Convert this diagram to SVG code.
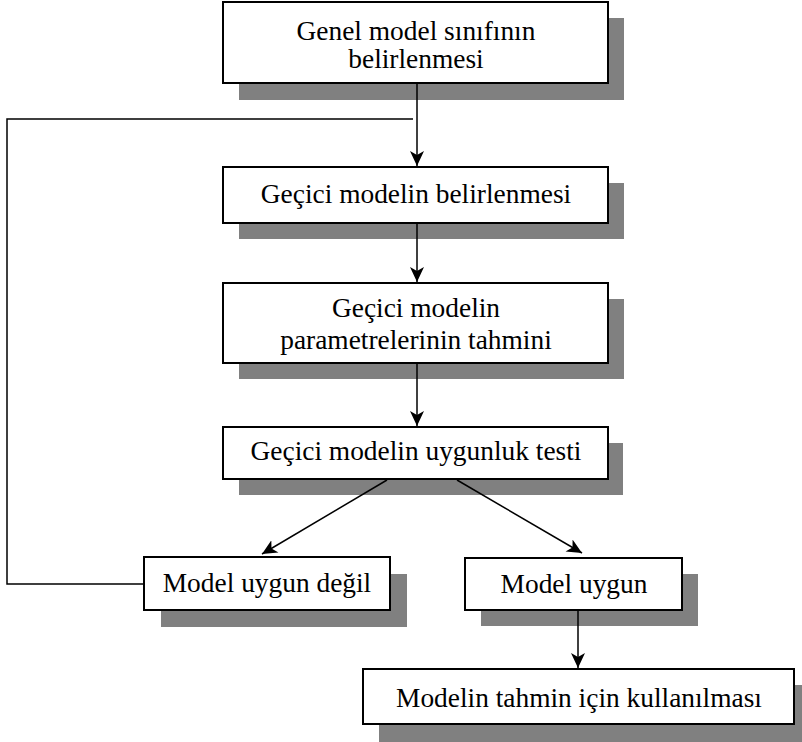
<svg xmlns="http://www.w3.org/2000/svg" width="802" height="742" viewBox="0 0 802 742">
<style>
.box{fill:#fff;stroke:#000;stroke-width:2}
.sh{fill:#808080}
.t{font-family:"Liberation Serif","Times New Roman",serif;font-size:27.4px;fill:#000;text-anchor:middle}
.c{fill:none;stroke:#000;stroke-width:1.5}
</style>
<defs>
<marker id="ah" markerUnits="userSpaceOnUse" markerWidth="16" markerHeight="16" viewBox="-15 -8 16 16" refX="0" refY="0" orient="auto">
<path d="M0,0 L-15,-7 L-11,0 L-15,7 Z" fill="#000"/>
</marker>
</defs>
<rect width="802" height="742" fill="#fff"/>
<g id="n1">
<rect class="sh" x="239" y="18" width="385" height="82"/>
<rect class="box" x="223" y="2" width="385" height="81"/>
<text class="t" x="416" y="40">Genel model sınıfının</text>
<text class="t" x="416" y="68">belirlenmesi</text>
</g>
<g id="n2">
<rect class="sh" x="239" y="183" width="385" height="56"/>
<rect class="box" x="223" y="167" width="385" height="56"/>
<text class="t" x="416" y="203">Geçici modelin belirlenmesi</text>
</g>
<g id="n3">
<rect class="sh" x="239" y="299" width="385" height="80"/>
<rect class="box" x="223" y="283" width="385" height="80"/>
<text class="t" x="416" y="317">Geçici modelin</text>
<text class="t" x="416" y="349">parametrelerinin tahmini</text>
</g>
<g id="n4">
<rect class="sh" x="239" y="443" width="384" height="52"/>
<rect class="box" x="223" y="427" width="385" height="52"/>
<text class="t" x="416" y="460">Geçici modelin uygunluk testi</text>
</g>
<g id="n5">
<rect class="sh" x="161" y="574" width="246" height="53"/>
<rect class="box" x="144" y="557" width="246" height="53"/>
<text class="t" x="267" y="592">Model uygun değil</text>
</g>
<g id="n6">
<rect class="sh" x="481" y="574" width="217" height="52"/>
<rect class="box" x="465" y="558" width="217" height="52"/>
<text class="t" x="574" y="593">Model uygun</text>
</g>
<g id="n7">
<rect class="sh" x="379" y="685" width="423" height="57"/>
<rect class="box" x="363" y="669" width="431" height="55"/>
<text class="t" x="579" y="707">Modelin tahmin için kullanılması</text>
</g>
<g id="connectors">
<line class="c" x1="417" y1="84" x2="417" y2="166" marker-end="url(#ah)"/>
<polyline class="c" points="144,584 7,584 7,119 413,119"/>
<line class="c" x1="417" y1="224" x2="417" y2="282" marker-end="url(#ah)"/>
<line class="c" x1="417" y1="364" x2="417" y2="426" marker-end="url(#ah)"/>
<line class="c" x1="387" y1="480" x2="262" y2="554" marker-end="url(#ah)"/>
<line class="c" x1="457" y1="480" x2="582" y2="553" marker-end="url(#ah)"/>
<line class="c" x1="578" y1="611" x2="578" y2="668" marker-end="url(#ah)"/>
</g>
</svg>
